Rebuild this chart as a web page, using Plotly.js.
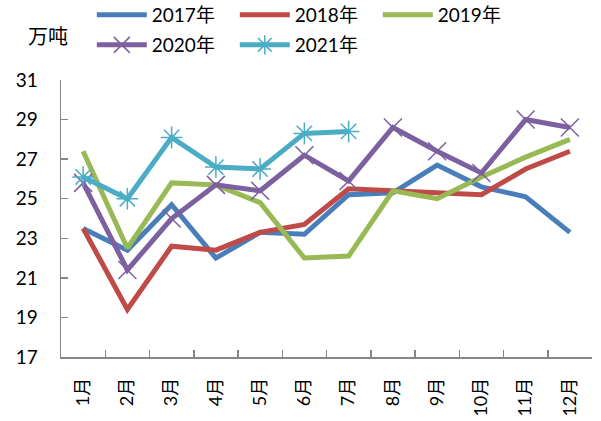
<!DOCTYPE html>
<html><head><meta charset="utf-8">
<script src="https://cdn.plot.ly/plotly-3.0.1.min.js"></script>
<style>body{margin:0;background:#fff}#c{width:601px;height:421px}</style>
</head><body><div id="c"></div>
<script>
const months = ['1月','2月','3月','4月','5月','6月','7月','8月','9月','10月','11月','12月'];
const s2017 = [23.5,22.4,24.7,22.0,23.3,23.2,25.2,25.3,26.7,25.6,25.1,23.3];
const s2018 = [23.5,19.4,22.6,22.4,23.3,23.7,25.5,25.4,25.3,25.2,26.5,27.4];
const s2019 = [27.4,22.5,25.8,25.7,24.8,22.0,22.1,25.4,25.0,26.1,27.1,28.0];
const s2020 = [25.8,21.4,24.0,25.7,25.4,27.2,25.9,28.6,27.4,26.3,29.0,28.6];
const s2021 = [26.1,25.0,28.1,26.6,26.5,28.3,28.4];
const names = ['2017年','2018年','2019年','2020年','2021年'];
const yTicks = [17,19,21,23,25,27,29,31];
const unit = '万吨';

const font = 'Lato, "Noto Sans CJK SC", sans-serif';
const lw = 5;
const traces = [
  {x: months, y: s2017, name: names[0], mode:'lines', line:{color:'#4A7EBB', width:lw}, legend:'legend'},
  {x: months, y: s2018, name: names[1], mode:'lines', line:{color:'#BE4B48', width:lw}, legend:'legend'},
  {x: months, y: s2019, name: names[2], mode:'lines', line:{color:'#98B954', width:lw}, legend:'legend'},
  {x: months, y: s2020, name: names[3], mode:'lines+markers', line:{color:'#7D60A0', width:lw},
   marker:{symbol:'x-thin-open', size:18, line:{color:'#7D60A0', width:1.5}}, legend:'legend2'},
  {x: months.slice(0, s2021.length), y: s2021, name: names[4], mode:'lines+markers', line:{color:'#4BACC6', width:lw},
   marker:{symbol:'asterisk-open', size:18, line:{color:'#4BACC6', width:1.5}}, legend:'legend2'}
];
const legBase = {orientation:'h', xref:'paper', x:0.058, yref:'container', xanchor:'left', yanchor:'middle',
    entrywidth:78, entrywidthmode:'pixels', itemwidth:50,
    font:{family:font, size:19}, bgcolor:'rgba(0,0,0,0)'};
const layout = {
  width:601, height:421,
  margin:{l:61, r:9, t:80, b:64, autoexpand:false},
  paper_bgcolor:'#fff', plot_bgcolor:'#fff',
  font:{family:font, size:19, color:'#000'},
  showlegend:true,
  legend:Object.assign({}, legBase, {y:1-15/421}),
  legend2:Object.assign({}, legBase, {y:1-45/421}),
  xaxis:{type:'category', showline:true, linecolor:'#868686', linewidth:1.5,
    ticks:'inside', ticklen:7, tickcolor:'#868686', tickwidth:1.5, tickson:'boundaries',
    tickangle:-90, showgrid:false, zeroline:false, range:[-0.5,11.5], ticklabelstandoff:12,
    tickfont:{family:font, size:18}},
  yaxis:{range:[17,31], tickvals:yTicks, showline:true, linecolor:'#868686', linewidth:1.5,
    ticks:'inside', ticklen:7, tickcolor:'#868686', tickwidth:1.5, showgrid:false, zeroline:false,
    ticklabelstandoff:18, tickfont:{family:font, size:19}},
  annotations:[{text:unit, xref:'paper', yref:'paper', x:(48-61)/531, y:(357-36)/277, xanchor:'center', yanchor:'middle',
    showarrow:false, font:{family:font, size:20}}]
};
Plotly.newPlot('c', traces, layout, {displayModeBar:false, staticPlot:true});
</script></body></html>
